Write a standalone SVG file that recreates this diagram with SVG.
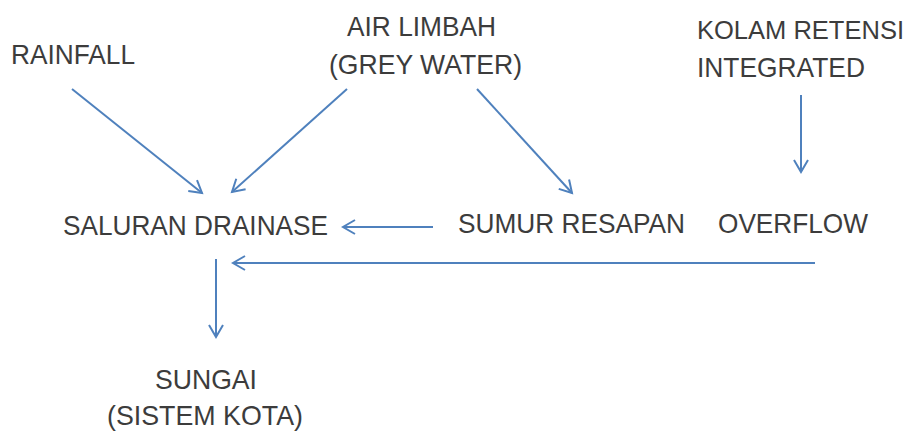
<svg xmlns="http://www.w3.org/2000/svg" width="917" height="439" viewBox="0 0 917 439">
<style>
text{font-family:"Liberation Sans",Arial,sans-serif;font-size:28px;fill:#3c3c3c}
.c line{stroke:#4f81bd;stroke-width:2;fill:none;marker-end:url(#ah)}
</style>
<defs>
<marker id="ah" markerUnits="userSpaceOnUse" markerWidth="20" markerHeight="20" viewBox="-14 -10 16 20" refX="0" refY="0" orient="auto">
<path d="M-12,-7 L0,0 L-12,7" fill="none" stroke="#4f81bd" stroke-width="2"/>
</marker>
</defs>
<rect width="917" height="439" fill="#fff"/>
<g id="rainfall"><text x="11" y="64" textLength="124" lengthAdjust="spacingAndGlyphs">RAINFALL</text></g>
<g id="air-limbah"><text x="347" y="36" textLength="149" lengthAdjust="spacingAndGlyphs">AIR LIMBAH</text><text x="329" y="74" textLength="193" lengthAdjust="spacingAndGlyphs">(GREY WATER)</text></g>
<g id="kolam"><text x="697" y="39" style="font-size:26px" textLength="207" lengthAdjust="spacingAndGlyphs">KOLAM RETENSI</text><text x="697" y="77" textLength="168" lengthAdjust="spacingAndGlyphs">INTEGRATED</text></g>
<g id="saluran"><text x="63" y="235" textLength="265" lengthAdjust="spacingAndGlyphs">SALURAN DRAINASE</text></g>
<g id="sumur"><text x="458" y="233" textLength="227" lengthAdjust="spacingAndGlyphs">SUMUR RESAPAN</text></g>
<g id="overflow"><text x="718" y="233" textLength="150" lengthAdjust="spacingAndGlyphs">OVERFLOW</text></g>
<g id="sungai"><text x="155" y="389" textLength="102" lengthAdjust="spacingAndGlyphs">SUNGAI</text><text x="107" y="425" textLength="196" lengthAdjust="spacingAndGlyphs">(SISTEM KOTA)</text></g>
<g id="connectors" class="c">
<line x1="72" y1="89" x2="202" y2="193"/>
<line x1="347" y1="89" x2="232" y2="192"/>
<line x1="477" y1="89" x2="572" y2="193"/>
<line x1="801" y1="95" x2="801" y2="172"/>
<line x1="433" y1="227" x2="343" y2="227"/>
<line x1="815" y1="263" x2="233" y2="263"/>
<line x1="216" y1="259" x2="216" y2="337"/>
</g>
</svg>
